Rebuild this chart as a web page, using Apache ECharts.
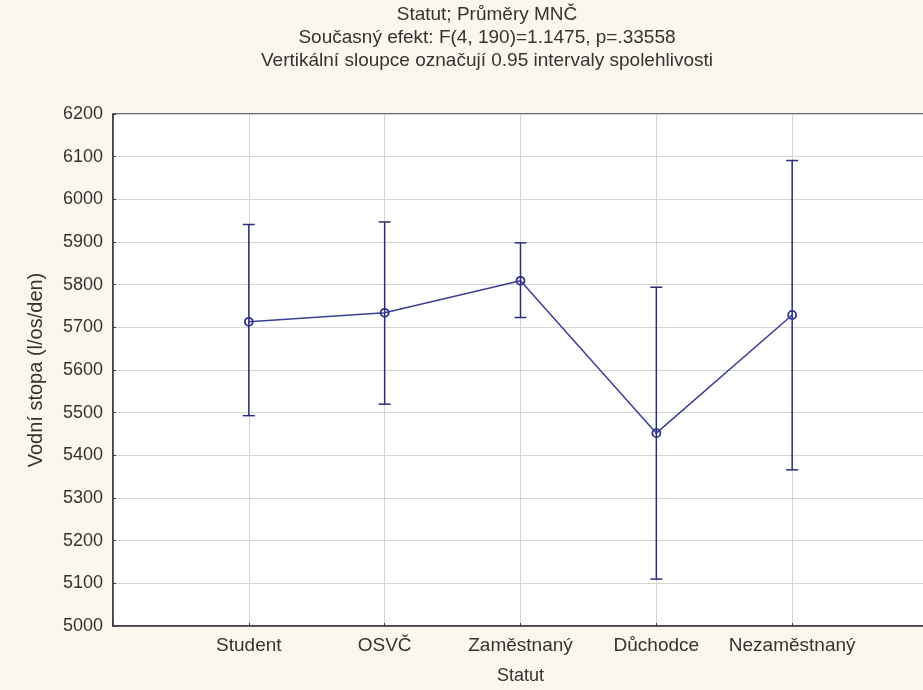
<!DOCTYPE html>
<html>
<head>
<meta charset="utf-8">
<script src="https://cdn.jsdelivr.net/npm/echarts@6/dist/echarts.min.js"></script>
<style>
html,body{margin:0;padding:0;background:#FBF7EC;overflow:hidden;}
#chart{width:935px;height:690px;}
</style>
</head>
<body>
<div id="chart"></div>
<script>
var categories = ['Student', 'OSVČ', 'Zaměstnaný', 'Důchodce', 'Nezaměstnaný'];
var means = [5713, 5734, 5809, 5452, 5729];
var lower = [5493, 5520, 5723, 5110, 5366];
var upper = [5941, 5947, 5898, 5794, 6091];
var titleLines = ['Statut; Průměry MNČ', 'Současný efekt: F(4, 190)=1.1475, p=.33558', 'Vertikální sloupce označují 0.95 intervaly spolehlivosti'];
var yAxisName = 'Vodní stopa (l/os/den)';
var xAxisName = 'Statut';

var FONT = '"Liberation Sans", Arial, sans-serif';
var TXT = '#333333';
var navy = '#2a2e7e';

var lineData = categories.map(function (c, i) { return [i + 1, means[i]]; });
var errData = categories.map(function (c, i) { return [i + 1, lower[i], upper[i]]; });

var chart = echarts.init(document.getElementById('chart'), null, {renderer: 'canvas'});
chart.setOption({
  backgroundColor: '#FBF7EC',
  animation: false,
  graphic: titleLines.map(function (t, i) {
    return {
      type: 'text', x: 487, y: 15 + i * 23,
      style: {text: t, textAlign: 'center', textVerticalAlign: 'middle', fontFamily: FONT, fontSize: 19, fill: TXT}
    };
  }),
  grid: {
    left: 113, top: 114, bottom: 64, right: 7,
    outerBoundsMode: 'none', containLabel: false,
    show: true, backgroundColor: '#ffffff', borderColor: '#3a3a3a', borderWidth: 1.5
  },
  xAxis: {
    type: 'value', min: 0, max: 6, interval: 1,
    name: xAxisName, nameLocation: 'middle', nameGap: 41,
    nameTextStyle: {fontFamily: FONT, fontSize: 18, color: TXT},
    axisLine: {show: true, lineStyle: {color: '#3a3a3a', width: 1.5}},
    axisTick: {show: true, inside: true, length: 3, lineStyle: {color: '#3a3a3a'}},
    axisLabel: {
      fontFamily: FONT, fontSize: 19, color: TXT, margin: 10,
      formatter: function (v) { return categories[v - 1] || ''; }
    },
    splitLine: {show: true, lineStyle: {color: '#d4d4d4', width: 1}}
  },
  yAxis: {
    type: 'value', min: 5000, max: 6200, interval: 100,
    name: yAxisName, nameLocation: 'middle', nameGap: 67, nameRotate: 90,
    nameTextStyle: {fontFamily: FONT, fontSize: 20, color: TXT},
    axisLine: {show: true, lineStyle: {color: '#3a3a3a', width: 1.5}},
    axisTick: {show: true, inside: true, length: 3, lineStyle: {color: '#3a3a3a'}},
    axisLabel: {fontFamily: FONT, fontSize: 18, color: TXT, margin: 10,
      formatter: function (v) { return String(v); }},
    splitLine: {show: true, lineStyle: {color: '#d4d4d4', width: 1}}
  },
  series: [
    {
      type: 'line', data: lineData, z: 3,
      symbol: 'circle', symbolSize: 8,
      lineStyle: {color: '#3b3f95', width: 1.5},
      itemStyle: {color: 'rgba(255,255,255,0)', borderColor: '#2f3390', borderWidth: 1.8}
    },
    {
      type: 'custom', data: errData, z: 4,
      renderItem: function (params, api) {
        var x = api.value(0);
        var lo = api.coord([x, api.value(1)]);
        var hi = api.coord([x, api.value(2)]);
        var w = 6;
        var st = {stroke: navy, lineWidth: 1.5};
        return {
          type: 'group',
          children: [
            {type: 'line', shape: {x1: lo[0], y1: lo[1], x2: hi[0], y2: hi[1]}, style: st},
            {type: 'line', shape: {x1: lo[0] - w, y1: lo[1], x2: lo[0] + w, y2: lo[1]}, style: st},
            {type: 'line', shape: {x1: hi[0] - w, y1: hi[1], x2: hi[0] + w, y2: hi[1]}, style: st}
          ]
        };
      }
    }
  ]
});
</script>
</body>
</html>
